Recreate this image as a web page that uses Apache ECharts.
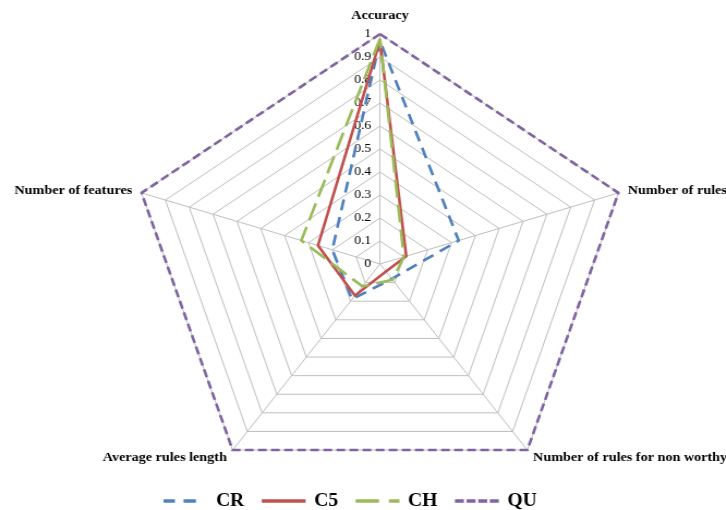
<!DOCTYPE html>
<html>
<head>
<meta charset="utf-8">
<script src="https://cdn.jsdelivr.net/npm/echarts@6/dist/echarts.min.js"></script>
<style>
html,body{margin:0;padding:0;background:#fff;overflow:hidden;width:726px;height:510px;}
#main{width:666px;height:510px;transform:scaleX(1.09);transform-origin:0 0;}
</style>
</head>
<body>
<div id="main"></div>
<script>
// Categories in clockwise order starting at the top
const categories = ['Accuracy', 'Number of rules', 'Number of rules for non worthy', 'Average rules length', 'Number of features'];
const seriesNames = ['CR', 'C5', 'CH', 'QU'];
const CR = [0.97, 0.33, 0.08, 0.19, 0.20];
const C5 = [0.97, 0.11, 0.04, 0.17, 0.26];
const CH = [0.98, 0.10, 0.085, 0.12, 0.33];
const QU = [1, 1, 1, 1, 1];
const axisMax = 1;

// ECharts places radar indicators counter-clockwise; reorder to get clockwise
const order = [0, 4, 3, 2, 1];
const reorder = arr => order.map(i => arr[i]);

const colors = {CR: '#4F81BD', C5: '#C0504D', CH: '#9BBB59', QU: '#8064A2'};
const dashes = {CR: [11, 7], C5: 'solid', CH: [18, 7], QU: [8, 4]};
const icons = {
  CR: 'path://M0,0H12V4H0Z M21,0H34V4H21Z M46,0 M46,4',
  C5: 'path://M0,0H46V4H0Z',
  CH: 'path://M0,0H24.5V4H0Z M35,0H46V4H35Z',
  QU: 'path://M0,0H9.4V4H0Z M12.2,0H21.6V4H12.2Z M24.4,0H33.8V4H24.4Z M36.6,0H46V4H36.6Z'
};
const values = {CR, C5, CH, QU};

const indicator = reorder(categories).map((name, i) => {
  const ind = {name: name, min: 0, max: axisMax};
  if (name === 'Accuracy') {
    ind.axisLabel = {
      show: true, color: '#000', fontFamily: 'Liberation Serif', fontSize: 12.5, margin: 8,
      formatter: v => String(Math.round(v * 10) / 10)
    };
  }
  return ind;
});

const chart = echarts.init(document.getElementById('main'), null, {renderer: 'canvas'});
chart.setOption({
  animation: false,
  backgroundColor: '#fff',
  legend: {
    left: 145, top: 487,
    itemWidth: 46, itemHeight: 3.5, itemGap: 16,
    data: seriesNames.map(n => ({name: n, icon: icons[n], itemStyle: {color: colors[n]}})),
    textStyle: {fontFamily: 'Liberation Serif', fontWeight: 'bold', fontSize: 18, color: '#000'}
  },
  radar: {
    center: [348.6, 264], radius: 230, startAngle: 90, splitNumber: 10, shape: 'polygon',
    nameGap: 9,
    axisName: {
      color: '#000', fontFamily: 'Liberation Serif', fontWeight: 'bold', fontSize: 13,
      formatter: name => name === 'Accuracy' ? '{t|' + name + '}' : name,
      rich: {t: {fontFamily: 'Liberation Serif', fontWeight: 'bold', fontSize: 13, color: '#000', padding: [0, 0, 3, 0]}}
    },
    splitLine: {lineStyle: {color: '#BFBFBF', width: 1}},
    splitArea: {show: false},
    axisLine: {lineStyle: {color: '#BFBFBF', width: 1}},
    axisTick: {show: false},
    axisLabel: {show: false},
    indicator: indicator
  },
  series: [{
    type: 'radar',
    symbol: 'none',
    data: seriesNames.map(n => ({
      name: n,
      value: reorder(values[n]),
      lineStyle: {color: colors[n], width: 2.6, type: dashes[n]},
      itemStyle: {color: colors[n]}
    }))
  }]
});
</script>
</body>
</html>
